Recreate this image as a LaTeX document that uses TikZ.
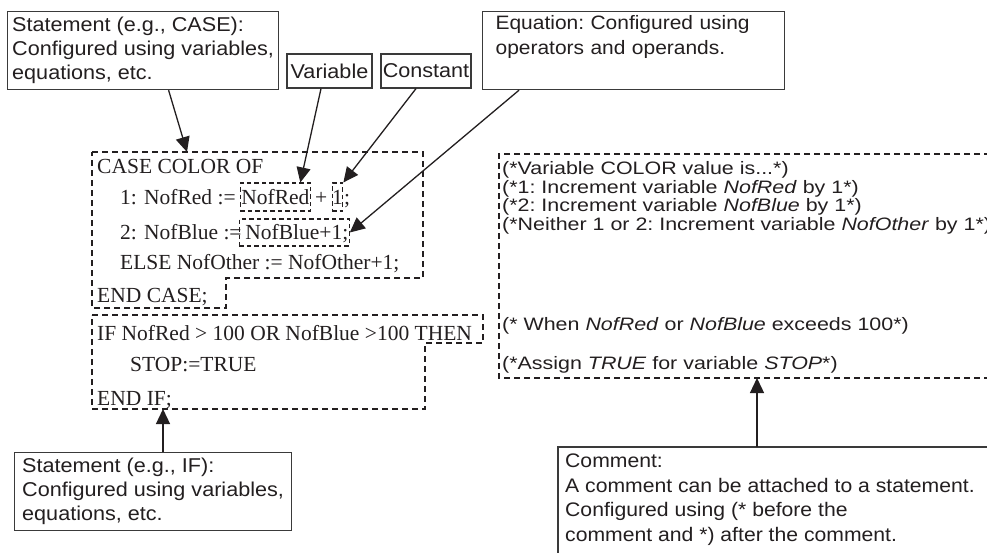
\documentclass[tikz,border=0pt]{standalone}
\usepackage{fontspec}
\setmainfont{Liberation Serif}
\newfontfamily\sansf[FakeStretch=1.08]{Liberation Sans}
\newfontfamily\sansc[FakeStretch=1.19]{Liberation Sans}
\usetikzlibrary{arrows.meta,calc}
\definecolor{ink}{HTML}{231F20}
\definecolor{boxgray}{HTML}{3A3A3A}
\newcommand\codesize{\fontsize{21.5}{26}\selectfont}
\newcommand\lblsize{\fontsize{20}{24.2}\selectfont}
\newcommand\eqsize{\fontsize{19.4}{24.2}\selectfont}
\newcommand\cbsize{\fontsize{19.6}{24.5}\selectfont}
\newcommand\cmtsize{\fontsize{18}{18.4}\selectfont}
\begin{document}
\begin{tikzpicture}[x=1pt,y=-1pt,
  lbl/.style={draw=boxgray, line width=1.2pt, text=ink, font=\sansf\lblsize\frenchspacing, align=left, inner xsep=0pt, inner ysep=0pt},
  code/.style={font=\codesize, text=ink, inner sep=0pt, anchor=base west},
  cmt/.style={font=\sansc\cmtsize\frenchspacing, text=ink, inner sep=0pt, anchor=base west},
  dbox/.style={draw=ink, dash pattern=on 4.5pt off 3pt, line width=1.1pt, font=\codesize, text=ink, inner xsep=1pt, inner ysep=0pt, anchor=base west},
  dblock/.style={draw=ink, dash pattern=on 6pt off 4pt, line width=1.2pt},
  arr/.style={draw=ink, line width=1.3pt, -{Triangle[length=15pt,width=14pt]}}
]
\useasboundingbox (0,0) rectangle (987,552);
\clip (0,0) rectangle (987,552);
\fill[white] (0,0) rectangle (987,552);

% label boxes
\node[lbl, anchor=north west, minimum width=271pt, minimum height=78pt] (stcase) at (7,11)
  {Statement (e.g., CASE):\\Configured using variables,\\equations, etc.};
\node[lbl, align=center, minimum width=85pt, minimum height=34pt] (var) at (329.5,71) {Variable};
\node[lbl, align=center, minimum width=90pt, minimum height=34pt] (const) at (426,71) {Constant};
\node[lbl, font=\sansf\eqsize\frenchspacing, anchor=north west, minimum width=302pt, minimum height=78pt, text width=276pt] (eqn) at (482,11)
  {Equation: Configured using\\operators and operands.\\\strut};
\node[lbl, anchor=north west, minimum width=277pt, minimum height=78pt] (stif) at (14,452)
  {Statement (e.g., IF):\\Configured using variables,\\equations, etc.};

% comment box (runs off the right and bottom edges)
\draw[draw=boxgray, line width=1.2pt] (1000,447) coordinate (cb1) -- (558,447) coordinate (cb2) -- (558,570) coordinate (cb3);
\coordinate (cmtfoot) at (757,447);
\node[font=\sansf\cbsize\frenchspacing, text=ink, align=left, anchor=north west, inner sep=0pt] (cmttext) at (565,454)
  {Comment:\\A comment can be attached to a statement.\\Configured using (* before the\\comment and *) after the comment.};

% CASE block
\draw[dblock] (92,152) coordinate (cs1) -- (423,152) coordinate (cs2) -- (423,278) coordinate (cs3)
  -- (226,278) coordinate (cs4) -- (226,308) coordinate (cs5) -- (92,308) coordinate (cs6) -- cycle;
\coordinate (casetip) at (187,152);
\node[code] (c1) at (97,173) {CASE COLOR OF};
\node[code] (c2a) at (120,204) {1: NofRed :=};
\node[dbox, text height=21pt, text depth=7pt] (nofred) at ([xshift=4pt]c2a.base east) {NofRed};
\node[code] (c2b) at ([xshift=4pt]nofred.base east) {+};
\node[dbox, inner xsep=0pt, text height=21pt, text depth=7pt] (one) at ([xshift=4pt]c2b.base east) {1};
\node[code] (c2c) at ([xshift=0.5pt]one.base east) {;};
\node[code] (c3a) at (120,239) {2: NofBlue :=};
\node[dbox, text height=20pt, text depth=7pt] (nofblue) at ([xshift=-3pt]c3a.base east) {\hspace{5pt}NofBlue+1;\hspace{1pt}};
\node[code] (c4) at (120,269) {ELSE NofOther := NofOther+1;};
\node[code] (c5) at (97,302) {END CASE;};

% IF block
\draw[dblock] (92,315) coordinate (is1) -- (483,315) coordinate (is2) -- (483,343) coordinate (is3)
  -- (425,343) coordinate (is4) -- (425,409) coordinate (is5) -- (92,409) coordinate (is6) -- cycle;
\coordinate (iftip) at (163,409);
\node[code] (i1) at (97,340) {IF NofRed > 100 OR NofBlue >100 THEN};
\node[code] (i2) at (130,371) {STOP:=TRUE};
\node[code] (i3) at (97,405) {END IF;};

% comment block (runs off the right edge)
\draw[dblock] (1000,154) coordinate (cm1) -- (499,154) coordinate (cm2) -- (499,378) coordinate (cm3) -- (1000,378) coordinate (cm4);
\coordinate (cmtip) at (757,378);
\node[cmt] (m1) at (502,174.5) {(*Variable COLOR value is...*)};
\node[cmt] (m2) at (502,193) {(*1: Increment variable \textit{NofRed} by 1*)};
\node[cmt] (m3) at (502,211.5) {(*2: Increment variable \textit{NofBlue} by 1*)};
\node[cmt] (m4) at (502,230) {(*Neither 1 or 2: Increment variable \textit{NofOther} by 1*)};
\node[cmt] (m5) at (502,330) {(* When \textit{NofRed} or \textit{NofBlue} exceeds 100*)};
\node[cmt] (m6) at (502,369) {(*Assign \textit{TRUE} for variable \textit{STOP}*)};

% arrows
\draw[arr] ([xshift=25.5pt]stcase.south) -- (casetip);
\draw[arr] ([xshift=-8.5pt]var.south) -- ($(nofred.north)!0.7!(nofred.north east)$);
\draw[arr] ([xshift=-10pt]const.south) -- (one.north east);
\draw[arr] ([xshift=37pt]eqn.south west) -- (nofblue.east);
\draw[arr] ([xshift=149pt]stif.north west) -- (iftip);
\draw[arr] (cmtfoot) -- (cmtip);
\end{tikzpicture}
\end{document}
